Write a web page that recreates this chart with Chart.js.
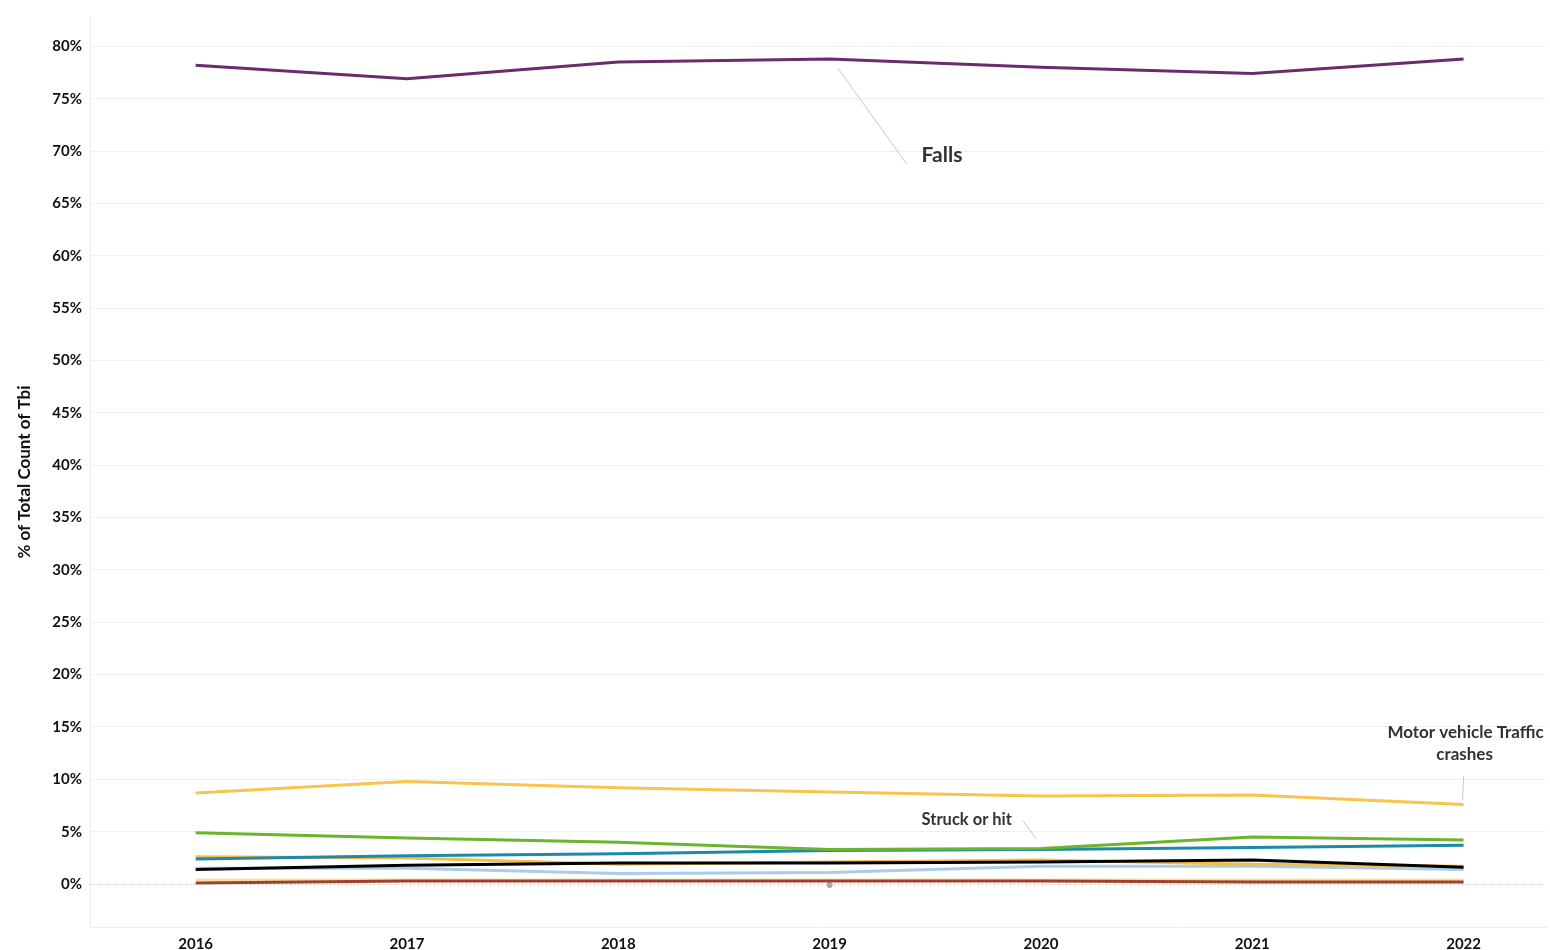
<!DOCTYPE html>
<html>
<head>
<meta charset="utf-8">
<script src="https://cdn.jsdelivr.net/npm/chart.js@4/dist/chart.umd.min.js"></script>
<style>
html,body{margin:0;padding:0;background:#fff;}
#wrap{width:1550px;height:950px;position:relative;}
</style>
</head>
<body>
<div id="wrap"><canvas id="c" width="1550" height="950"></canvas></div>
<script>
const years = [2016, 2017, 2018, 2019, 2020, 2021, 2022];
const yTicks = [0, 5, 10, 15, 20, 25, 30, 35, 40, 45, 50, 55, 60, 65, 70, 75, 80];
const falls = [78.2, 76.9, 78.5, 78.8, 78.0, 77.4, 78.8];
const motorVehicle = [8.7, 9.8, 9.2, 8.8, 8.4, 8.5, 7.6];
const greenSeries = [4.9, 4.4, 4.0, 3.3, 3.4, 4.5, 4.2];
const struckOrHit = [2.4, 2.7, 2.9, 3.2, 3.3, 3.5, 3.7];
const yellowSeries = [2.6, 2.5, 1.9, 2.1, 2.3, 1.9, 1.7];
const blackSeries = [1.4, 1.8, 2.0, 2.0, 2.1, 2.3, 1.6];
const lightBlueSeries = [1.5, 1.5, 1.0, 1.1, 1.7, 1.7, 1.4];
const tanSeries = [0.4, 0.4, 0.4, 0.4, 0.4, 0.4, 0.4];
const brownSeries = [0.1, 0.3, 0.3, 0.3, 0.3, 0.2, 0.2];
const greySeries = [null, null, null, -0.1, null, null, null];

const FONT = 'Lato, "Open Sans", sans-serif';
const pts = arr => years.map((y, i) => ({x: y, y: arr[i]}));
const ln = (label, arr, color, order, w) => ({
  label, data: pts(arr), borderColor: color, backgroundColor: color,
  borderWidth: w || 3, pointRadius: 0, tension: 0, order
});

const annot = {
  id: 'annot',
  afterDatasetsDraw(chart) {
    const {ctx, scales: {x, y}} = chart;
    ctx.save();
    ctx.strokeStyle = '#b5b5b5';
    ctx.lineWidth = 1;
    ctx.setLineDash([1, 3]);
    ctx.beginPath();
    ctx.moveTo(chart.chartArea.left, Math.round(y.getPixelForValue(0)) + 0.5);
    ctx.lineTo(chart.chartArea.right, Math.round(y.getPixelForValue(0)) + 0.5);
    ctx.stroke();
    ctx.setLineDash([]);

    ctx.strokeStyle = '#c8c8c8';
    ctx.fillStyle = '#333';
    let px = x.getPixelForValue(years[3]), py = y.getPixelForValue(falls[3]);
    ctx.beginPath(); ctx.moveTo(px + 8, py + 9); ctx.lineTo(px + 77, py + 105); ctx.stroke();
    ctx.font = 'bold 21px ' + FONT;
    ctx.textAlign = 'left'; ctx.textBaseline = 'middle';
    ctx.fillText('Falls', px + 92, py + 96);
    px = x.getPixelForValue(years[4]); py = y.getPixelForValue(struckOrHit[4]);
    ctx.beginPath(); ctx.moveTo(px - 18, py - 29); ctx.lineTo(px - 5, py - 11); ctx.stroke();
    ctx.font = 'bold 16.5px ' + FONT;
    ctx.textAlign = 'right';
    ctx.fillText('Struck or hit', px - 29, py - 30);
    px = x.getPixelForValue(years[6]); py = y.getPixelForValue(motorVehicle[6]);
    ctx.beginPath(); ctx.moveTo(px, py - 28); ctx.lineTo(px - 1, py - 4); ctx.stroke();
    ctx.textAlign = 'center';
    ctx.font = 'bold 17px ' + FONT;
    ctx.fillText('Motor vehicle Traffic', px + 2, py - 72);
    ctx.fillText('crashes', px + 1, py - 50);
    ctx.restore();
  }
};

new Chart(document.getElementById('c'), {
  type: 'line',
  data: {
    datasets: [
      ln('Falls', falls, '#6a2c6a', 1),
      ln('Motor vehicle Traffic crashes', motorVehicle, '#f7c44c', 2),
      ln('Other (green)', greenSeries, '#6ab42e', 3),
      ln('Struck or hit', struckOrHit, '#1b8ba8', 4),
      ln('Other (black)', blackSeries, '#000000', 5),
      ln('Other (yellow)', yellowSeries, '#f4bd45', 6),
      ln('Other (light blue)', lightBlueSeries, '#a9cde9', 7),
      ln('Other (brown)', brownSeries, '#9e412c', 8),
      ln('Other (tan)', tanSeries, '#f6e0a8', 9),
      {label: 'Other (grey)', data: pts(greySeries), showLine: false, pointRadius: 3,
       pointBorderWidth: 0, backgroundColor: '#a9a9a9', borderColor: '#a9a9a9', order: 10}
    ]
  },
  options: {
    responsive: false,
    animation: false,
    layout: {padding: {top: 9, right: 0, left: 0, bottom: 0}},
    plugins: {legend: {display: false}, tooltip: {enabled: false}},
    scales: {
      x: {
        type: 'linear', min: 2015.5, max: 2022.39,
        afterBuildTicks: s => { s.ticks = years.map(v => ({value: v})); },
        afterFit: s => { s.height = 23; },
        grid: {display: false},
        border: {color: '#ececec'},
        ticks: {color: '#111', font: {family: FONT, weight: 'bold', size: 15}, padding: 0,
                callback: v => String(v), maxRotation: 0, autoSkip: false}
      },
      y: {
        min: -4.1, max: 82.8,
        afterBuildTicks: s => { s.ticks = yTicks.map(v => ({value: v})); },
        afterFit: s => { s.width = 90; },
        grid: {color: ctx => (ctx.tick && ctx.tick.value === 0) ? 'rgba(0,0,0,0)' : '#f0f0f0', drawTicks: false},
        border: {color: '#ececec'},
        ticks: {color: '#111', font: {family: FONT, weight: 'bold', size: 15}, padding: 8,
                callback: v => v + '%'},
        title: {display: true, text: '% of Total Count of Tbi', color: '#111',
                font: {family: FONT, weight: 'bold', size: 17}, padding: {top: 14, bottom: 0}}
      }
    }
  },
  plugins: [annot]
});
</script>
</body>
</html>
